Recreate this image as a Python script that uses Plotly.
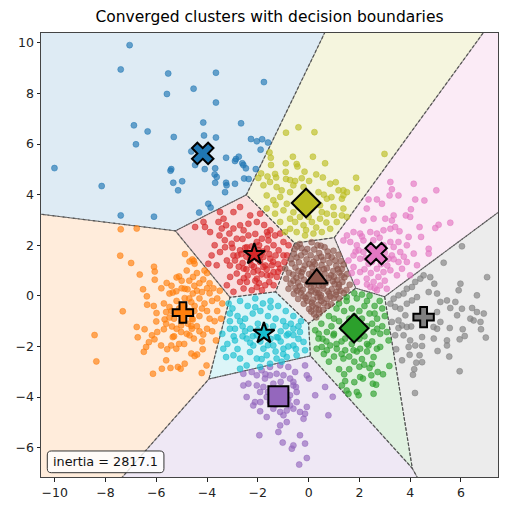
import numpy as np
import plotly.graph_objects as go

# ---------------- data ----------------
cluster_names = ["blue", "orange", "green", "red", "purple", "brown", "pink", "gray", "olive", "cyan"]
cluster_colors = ["#1f77b4", "#ff7f0e", "#2ca02c", "#d62728", "#9467bd",
                  "#8c564b", "#e377c2", "#7f7f7f", "#bcbd22", "#17becf"]
centroid_x = [-4.17, -4.95, 1.79, -2.14, -1.19, 0.32, 2.66, 4.53, -0.10, -1.76]
centroid_y = [5.63, -0.66, -1.28, 1.64, -3.97, 0.68, 1.67, -0.84, 3.67, -1.48]
inertia_value = 2817.1

x_ticks = [-10, -8, -6, -4, -2, 0, 2, 4, 6]
y_ticks = [-6, -4, -2, 0, 2, 4, 6, 8, 10]

blue_pts = [(-7.05, 9.91), (-7.40, 8.95), (-5.53, 8.79), (-4.53, 8.19), (-5.58, 7.98), (-6.88, 6.74),
            (-6.34, 6.50), (-5.31, 6.28), (-6.80, 5.99), (-10.01, 5.05), (-4.62, 5.71), (-5.41, 5.01),
            (-5.44, 4.95), (-4.47, 5.17), (-5.33, 4.47), (-4.98, 4.53), (-3.65, 8.82), (-1.76, 8.45),
            (-3.65, 7.64), (-4.15, 6.85), (-2.66, 6.82), (-4.12, 6.34), (-3.65, 6.26), (-2.27, 6.20),
            (-2.04, 6.11), (-1.83, 6.19), (-1.60, 6.06), (-1.89, 5.78), (-4.09, 5.01), (-3.68, 5.04),
            (-3.70, 4.80), (-3.25, 5.46), (-2.86, 5.41), (-2.75, 5.50), (-2.90, 5.33), (-2.61, 5.24),
            (-2.57, 5.17), (-2.47, 5.04), (-2.08, 5.01), (-2.54, 4.64), (-2.36, 4.62), (-3.68, 4.47),
            (-3.25, 4.47), (-3.62, 4.70), (-3.23, 4.37), (-3.29, 4.10), (-2.90, 4.43), (-3.95, 3.64),
            (-3.86, 3.49), (-4.31, 3.29), (-8.15, 4.34), (-5.14, 4.17), (-7.40, 3.18), (-6.09, 3.13)]

orange_pts = [(-7.40, 2.63), (-6.77, 2.66), (-7.42, 1.59), (-6.99, 1.30), (-6.09, 1.15), (-6.06, 0.96),
              (-6.65, 0.84), (-6.06, 0.64), (-4.87, 1.65), (-4.58, 1.44), (-4.52, 1.38), (-4.69, 1.36),
              (-4.49, 1.27), (-5.10, 0.77), (-5.20, 0.73), (-5.59, 0.51), (-6.52, 0.26), (-6.37, -0.02),
              (-5.48, 0.09), (-5.35, 0.13), (-5.21, 0.18), (-4.88, 0.28), (-4.77, 0.26), (-4.56, 0.09),
              (-4.88, -0.09), (-4.62, -0.25), (-4.49, -0.40), (-6.36, -0.35), (-7.32, -0.61), (-5.99, -0.68),
              (-5.48, -0.44), (-5.61, -0.64), (-6.00, -1.01), (-5.67, -0.93), (-5.61, -1.10), (-5.48, -0.86),
              (-5.38, -1.21), (-5.70, -1.32), (-6.77, -1.23), (-6.46, -1.32), (-5.02, -1.17), (-4.62, -1.19),
              (-4.56, -0.93), (-8.43, -1.55), (-8.36, -2.59), (-6.73, -1.64), (-6.29, -1.83), (-6.40, -2.02),
              (-6.49, -2.21), (-6.13, -3.08), (-6.17, -1.56), (-5.96, -1.43), (-6.07, -1.72), (-5.81, -1.96),
              (-5.57, -2.11), (-5.41, -1.96), (-5.61, -2.55), (-5.44, -2.85), (-5.78, -2.88), (-5.15, -2.81),
              (-5.04, -2.88), (-5.21, -2.09), (-5.35, -1.63), (-5.02, -1.43), (-4.69, -1.56), (-4.52, -1.69),
              (-4.62, -2.28), (-4.49, -2.38), (-4.88, -2.68), (-4.39, -2.32), (-4.17, -2.11), (-4.21, -3.05),
              (-4.02, -2.75), (-3.65, -1.76), (-4.15, -1.53), (-4.30, 0.50), (-4.00, 0.30), (-3.80, -0.20),
              (-4.20, -0.50), (-3.90, -0.90), (-4.40, -1.20), (-4.00, 0.90), (-4.10, 1.00), (-3.60, -0.60),
              (-4.70, -0.60), (-4.30, -0.10), (-4.00, -1.30), (-3.50, 0.20), (-4.70, 0.60), (-4.40, 0.90),
              (-3.90, 0.50), (-4.20, -1.80), (-3.80, -1.40), (-4.60, -0.90), (-5.20, -0.20), (-5.00, 0.30),
              (-4.90, -0.40), (-5.30, -0.90), (-4.80, -1.50), (-5.10, -1.90), (-4.40, 0.20), (-4.10, -0.30),
              (-3.70, -1.00), (-4.50, -0.60), (-5.10, -0.50), (-4.30, -0.80), (-3.90, 0.10), (-4.80, 1.00),
              (-5.40, 0.40), (-3.40, -0.30), (-3.45, -0.90), (-4.70, -0.10), (-4.50, 0.40), (-4.20, 0.15),
              (-4.00, -0.60), (-4.30, -1.40), (-4.60, -1.30), (-5.20, -1.30), (-5.40, -0.60), (-5.70, -0.30),
              (-5.00, -1.00), (-4.75, -1.10), (-3.75, 0.30), (-3.60, -0.10), (-4.15, 0.65), (-4.55, 0.75),
              (-5.00, 0.60), (-5.80, 0.30), (-6.10, -0.40), (-5.30, -1.60), (-4.90, -1.90)]

green_pts = [(1.37, -1.23), (1.64, -1.43), (2.56, -1.43), (2.82, -1.50), (3.08, -1.43), (3.15, -1.76),
             (2.82, -2.02), (2.69, -2.09), (2.36, -1.96), (2.03, -2.09), (1.44, -2.15), (1.77, -2.15),
             (1.37, -2.48), (2.56, -2.42), (2.19, -2.72), (2.40, -2.85), (2.47, -3.14), (2.72, -3.01),
             (2.93, -3.10), (3.18, -2.77), (2.03, -3.21), (2.14, -3.27), (1.44, -3.37), (1.80, -3.41),
             (2.53, -3.47), (2.66, -3.51), (1.57, -3.87), (1.90, -3.80), (1.97, -3.93), (2.56, -3.87),
             (1.31, -3.54), (0.26, -1.36), (0.39, -1.69), (0.32, -2.09), (0.52, -2.02), (0.72, -2.15),
             (0.85, -1.96), (1.11, -2.09), (1.50, -3.74), (0.72, -1.43), (0.98, -1.56), (1.44, -1.69),
             (0.80, -0.80), (1.10, -0.50), (1.20, -0.30), (1.50, -0.20), (1.90, -0.10), (2.30, -0.20),
             (2.60, -0.40), (2.90, -0.50), (3.00, -0.80), (1.40, -0.60), (1.70, -0.50), (2.00, -0.60),
             (2.40, -0.70), (2.70, -0.90), (0.50, -1.10), (0.90, -1.20), (1.20, -1.00), (1.60, -0.90),
             (2.10, -0.90), (2.50, -1.10), (2.90, -1.20), (0.40, -1.50), (0.70, -1.80), (1.00, -1.50),
             (1.30, -1.80), (2.20, -1.60), (2.50, -1.80), (1.90, -2.20), (1.60, -2.40), (2.10, -2.50),
             (1.00, -2.40), (0.80, -2.60), (1.20, -2.90), (1.60, -2.90), (2.00, -2.80), (0.60, -2.30),
             (1.40, -3.10), (2.30, -2.20), (1.80, 0.10), (2.10, 0.05), (1.50, -0.05), (2.40, 0.00),
             (2.80, -0.20), (1.00, -0.90), (1.35, -1.30), (1.60, -1.15), (2.00, -1.35), (2.30, -1.20),
             (2.00, -1.70), (1.70, -1.90), (2.30, -1.90), (1.10, -1.90), (0.55, -1.70), (2.70, -1.30),
             (2.60, -0.70), (2.20, -0.40), (1.80, -0.80), (1.30, -2.30), (2.50, -2.70), (1.80, -2.60)]

red_pts = [(-3.35, 3.05), (-3.55, 2.92), (-3.25, 2.79), (-3.42, 2.66), (-4.14, 2.92), (-4.47, 2.72),
           (-4.08, 2.72), (-3.88, 2.52), (-3.51, 2.39), (-3.12, 2.46), (-2.96, 2.66), (-2.70, 2.79),
           (-2.56, 2.59), (-2.37, 2.39), (-2.83, 2.26), (-3.03, 2.06), (-3.29, 1.92), (-3.49, 1.73),
           (-3.82, 1.60), (-3.95, 1.27), (-3.62, 1.21), (-3.22, 1.40), (-2.96, 1.60), (-2.70, 1.80),
           (-2.43, 1.92), (-2.04, 2.13), (-1.84, 2.26), (-1.58, 2.19), (-1.38, 2.00), (-1.18, 1.80),
           (-0.99, 1.60), (-1.64, 1.87), (-1.91, 1.34), (-2.24, 1.21), (-2.56, 1.08), (-2.83, 0.88),
           (-3.09, 0.75), (-2.96, 0.16), (-2.43, 0.55), (-2.04, 0.68), (-1.64, 0.81), (-1.38, 0.94),
           (-1.12, 1.08), (-0.95, 1.34), (-1.51, 1.47), (-1.78, 1.54), (-2.17, 0.94), (-2.70, 0.55),
           (-2.04, 0.35), (-1.71, 0.42), (-1.38, 0.42), (-2.30, 3.18), (-2.04, 2.92), (-1.91, 3.25),
           (-1.64, 2.52), (-1.51, 2.59), (-1.32, 2.39), (-0.99, 2.13), (-0.79, 2.00), (-1.12, 2.46),
           (-2.96, 3.31), (-2.70, 3.51), (-3.49, 3.31), (-2.37, 2.85), (-1.97, 1.80), (-1.78, 1.14),
           (-1.45, 1.21), (-1.25, 0.75), (-1.84, 0.22), (-2.24, 0.22), (-2.56, 0.29), (-3.22, 0.42),
           (-0.85, 1.60), (-1.20, 0.95), (-2.20, 1.70), (-1.90, 1.60), (-2.50, 1.90), (-2.30, 1.40),
           (-1.70, 1.20), (-2.00, 1.00), (-2.60, 1.30), (-1.50, 0.80), (-2.10, 0.60), (-1.30, 1.60),
           (-2.80, 1.60), (-3.10, 1.20), (-2.40, 0.80), (-1.60, 2.40), (-2.30, 1.60), (-2.00, 1.45),
           (-1.80, 1.75), (-2.45, 1.55), (-2.65, 1.65), (-1.95, 2.00), (-2.25, 1.95), (-1.55, 1.65),
           (-1.40, 1.35), (-1.65, 1.05), (-2.15, 1.15), (-2.45, 1.05), (-2.75, 1.15), (-2.90, 1.40),
           (-1.85, 0.85), (-1.20, 1.25), (-3.30, 2.20), (-3.70, 2.00), (-2.60, 2.25), (-2.10, 2.45),
           (-1.75, 2.80), (-2.55, 0.70), (-1.95, 0.50), (-1.55, 0.55), (-3.00, 1.90)]

purple_pts = [(-2.57, -3.08), (-2.24, -3.01), (-2.04, -3.14), (-1.85, -2.94), (-1.52, -2.81), (-1.12, -2.75),
              (-0.80, -2.81), (-0.14, -2.75), (-0.07, -3.14), (0.01, -3.27), (-0.60, -3.54), (-0.47, -3.80),
              (-0.73, -3.93), (-0.47, -4.20), (-0.60, -4.46), (-0.34, -4.59), (-0.14, -4.66), (-0.07, -4.39),
              (-0.20, -4.86), (0.26, -3.93), (0.65, -3.60), (0.95, -3.99), (0.78, -4.72), (-0.34, -5.51),
              (-0.14, -5.84), (-0.60, -5.91), (-0.66, -6.04), (-1.02, -5.80), (-0.07, -6.41), (-0.37, -6.67),
              (-1.94, -5.51), (-1.19, -5.38), (-1.12, -5.12), (-0.86, -4.99), (-1.65, -4.79), (-1.91, -4.56),
              (-2.18, -4.33), (-2.44, -4.00), (-2.11, -4.20), (-1.91, -3.80), (-2.37, -3.47), (-2.57, -3.54),
              (-2.04, -3.54), (-1.78, -3.60), (-1.72, -3.27), (-1.52, -3.14), (-1.26, -3.08), (-0.99, -3.14),
              (-0.73, -3.27), (-0.60, -3.40), (-1.39, -4.46), (-1.12, -4.59), (-0.86, -4.53), (-0.99, -4.72),
              (-0.73, -4.33), (-1.52, -4.20), (-1.65, -4.00), (-1.39, -3.47), (-0.53, -3.01), (-1.60, -3.80),
              (-0.90, -3.70), (-1.30, -4.30), (-0.80, -4.10), (-1.90, -4.20), (-0.50, -3.60), (-1.10, -3.40),
              (-1.70, -3.10)]

brown_pts = [(-0.35, 2.05), (0.12, 2.12), (0.48, 1.98), (-0.55, 1.85), (-0.28, 1.88), (0.22, 1.83),
             (0.63, 1.92), (0.98, 1.78), (-0.58, 1.66), (-0.15, 1.72), (0.08, 1.61), (0.42, 1.69),
             (0.77, 1.58), (1.18, 1.62), (-0.70, 1.45), (-0.47, 1.52), (-0.08, 1.44), (0.31, 1.49),
             (0.58, 1.41), (0.91, 1.53), (1.27, 1.38), (-0.66, 1.28), (-0.38, 1.33), (0.03, 1.26),
             (0.19, 1.35), (0.51, 1.22), (0.82, 1.31), (1.09, 1.19), (1.38, 1.24), (-0.92, 1.08),
             (-0.52, 1.12), (-0.21, 1.05), (0.14, 1.14), (0.39, 1.02), (0.72, 1.09), (0.97, 0.98),
             (1.31, 1.06), (-0.77, 0.91), (-0.61, 0.84), (-0.27, 0.93), (0.02, 0.86), (0.28, 0.95),
             (0.63, 0.88), (0.88, 0.81), (1.21, 0.92), (1.52, 0.86), (-0.88, 0.68), (-0.48, 0.72),
             (-0.18, 0.64), (0.11, 0.75), (0.52, 0.66), (0.79, 0.71), (1.12, 0.62), (1.41, 0.73),
             (-0.71, 0.49), (-0.42, 0.53), (-0.06, 0.45), (0.23, 0.56), (0.41, 0.42), (0.68, 0.51),
             (1.02, 0.47), (1.33, 0.55), (1.62, 0.44), (-0.79, 0.28), (-0.52, 0.31), (-0.23, 0.24),
             (0.09, 0.33), (0.33, 0.22), (0.58, 0.29), (0.91, 0.26), (1.18, 0.34), (1.49, 0.23),
             (-0.58, 0.08), (-0.31, 0.12), (0.02, 0.05), (0.27, 0.13), (0.49, 0.02), (0.81, 0.09),
             (1.07, 0.04), (1.38, 0.11), (-0.41, -0.12), (-0.12, -0.08), (0.18, -0.15), (0.47, -0.06),
             (0.72, -0.13), (0.98, -0.09), (1.20, -0.10), (-0.19, -0.31), (0.13, -0.27), (0.38, -0.35),
             (0.61, -0.29), (0.88, -0.33), (0.02, -0.52), (0.29, -0.49), (0.57, -0.55), (0.21, -0.72),
             (0.42, -0.70), (0.30, -0.85), (-0.45, 1.95), (0.35, 2.00), (0.75, 1.75), (-0.05, 1.85),
             (0.50, 1.55), (-0.30, 1.60), (1.05, 1.40), (0.25, 1.25), (-0.15, 1.20), (0.60, 1.05),
             (1.15, 1.05), (-0.40, 0.98), (0.15, 0.92), (0.45, 0.80), (1.00, 0.75), (1.30, 0.80),
             (-0.30, 0.78), (0.30, 0.68), (0.95, 0.58), (-0.60, 0.60), (0.00, 0.55), (0.55, 0.40),
             (1.20, 0.45), (-0.35, 0.38), (0.20, 0.40), (0.75, 0.18), (1.25, 0.20), (-0.45, 0.20),
             (0.10, 0.18), (0.40, 0.10), (-0.20, -0.02), (0.35, -0.05), (0.85, -0.02), (1.10, 0.15),
             (-0.05, -0.20), (0.50, -0.20), (0.75, -0.40), (0.15, -0.40), (0.40, -0.55), (0.10, -0.62)]

pink_pts = [(3.22, 4.50), (3.28, 4.21), (3.19, 3.97), (3.54, 3.97), (4.14, 4.43), (5.03, 4.17),
            (4.20, 3.81), (4.56, 3.77), (2.36, 3.81), (2.69, 3.81), (2.89, 3.64), (2.29, 3.45),
            (4.03, 3.42), (3.83, 3.18), (4.00, 3.12), (3.35, 3.18), (3.28, 2.98), (3.02, 3.05),
            (2.56, 3.05), (2.16, 2.98), (5.58, 2.89), (5.12, 2.81), (4.99, 2.68), (4.37, 2.72),
            (4.43, 2.33), (3.94, 2.33), (3.58, 2.55), (3.41, 2.72), (3.22, 2.65), (2.95, 2.59),
            (2.69, 2.46), (2.43, 2.52), (2.03, 2.46), (1.77, 2.52), (1.51, 2.39), (1.37, 2.19),
            (1.64, 2.13), (1.90, 2.00), (2.16, 2.19), (3.22, 2.13), (3.54, 2.13), (3.87, 2.00),
            (4.14, 1.67), (4.73, 1.86), (4.73, 1.67), (3.61, 1.73), (3.28, 1.60), (3.15, 1.47),
            (3.54, 1.34), (3.68, 1.07), (4.00, 0.81), (3.48, 0.81), (3.22, 1.01), (2.95, 0.94),
            (2.69, 1.07), (2.36, 1.27), (2.03, 1.47), (1.77, 1.60), (1.57, 1.40), (1.77, 1.14),
            (2.03, 0.94), (2.29, 0.68), (2.56, 0.55), (2.82, 0.41), (3.08, 0.28), (2.69, 0.22),
            (2.43, 0.35), (1.90, 0.55), (2.16, 1.73), (1.97, 1.80), (2.95, 2.00), (3.35, 1.93),
            (2.82, 1.47), (2.56, 1.60), (3.87, 1.34), (4.27, 1.21), (2.40, 1.90), (2.70, 1.75),
            (3.00, 1.70), (2.55, 2.20), (2.25, 1.50), (2.50, 1.35), (2.85, 1.25), (3.10, 1.20),
            (2.20, 1.05), (2.45, 0.90), (2.75, 0.75), (3.00, 0.60), (1.85, 1.75), (2.10, 2.35),
            (2.80, 2.30), (3.35, 1.45), (3.75, 1.55), (2.30, 0.45), (2.60, 0.30), (1.70, 0.90)]

gray_pts = [(6.04, 1.96), (5.32, 1.31), (7.03, 0.74), (4.79, 0.74), (4.95, 0.48), (5.06, 0.09),
            (4.53, 0.81), (4.40, 0.68), (4.20, 0.55), (4.07, 0.35), (3.87, 0.28), (3.74, 0.09),
            (3.54, 0.02), (3.35, -0.11), (3.22, -0.31), (3.41, -0.44), (3.61, -0.51), (3.87, -0.31),
            (4.07, -0.18), (4.27, -0.05), (4.73, 0.15), (5.19, -0.24), (5.45, -0.18), (5.78, -0.24),
            (5.98, 0.48), (5.91, 0.22), (6.63, 0.02), (5.58, -0.48), (6.04, -0.51), (6.44, -0.48),
            (6.63, -0.64), (6.90, -0.70), (6.37, -0.90), (6.50, -0.97), (5.06, -0.64), (5.19, -1.03),
            (3.81, -0.77), (3.54, -0.97), (3.28, -1.03), (3.68, -1.17), (4.92, -1.23), (3.87, -1.23),
            (6.77, -1.03), (5.85, -0.77), (3.54, -1.27), (4.04, -1.21), (5.06, -1.30), (5.56, -1.27),
            (6.07, -1.32), (6.79, -1.32), (6.98, -1.65), (6.15, -1.59), (5.95, -1.72), (5.45, -1.76),
            (5.45, -1.96), (4.93, -1.69), (4.47, -1.63), (4.00, -1.76), (3.74, -1.56), (3.41, -1.56),
            (4.20, -1.96), (3.94, -2.02), (4.47, -1.98), (3.45, -2.11), (3.98, -2.33), (4.37, -2.35),
            (5.08, -2.18), (5.54, -2.40), (3.68, -2.55), (4.24, -2.64), (4.47, -2.62), (4.16, -2.90),
            (4.11, -3.12), (5.95, -2.98), (4.19, -3.84)]

olive_pts = [(-0.40, 6.66), (-0.89, 6.45), (0.23, 6.47), (-1.54, 5.67), (-0.62, 5.50), (0.17, 5.50),
             (-1.49, 5.46), (-0.90, 5.24), (-0.47, 5.21), (-0.44, 5.11), (0.65, 5.24), (-0.16, 4.91),
             (-1.87, 4.84), (-1.62, 4.72), (-1.32, 4.82), (-1.28, 4.68), (-0.89, 4.62), (-0.73, 4.58),
             (-0.53, 4.54), (-0.27, 4.65), (0.02, 4.54), (0.56, 4.68), (1.07, 4.49), (-1.98, 4.66),
             (-1.48, 5.17), (2.99, 5.61), (1.87, 4.67), (1.37, 4.17), (1.51, 4.10), (1.90, 4.26),
             (1.31, 3.84), (1.37, 3.45), (1.31, 3.18), (1.51, 3.12), (-1.78, 4.37), (-1.52, 4.50),
             (-1.26, 4.30), (-0.60, 4.37), (0.85, 4.43), (1.18, 4.17), (1.37, 3.97), (-1.65, 3.97),
             (-1.39, 3.78), (-1.12, 3.91), (-0.86, 3.64), (-1.65, 3.45), (-1.32, 3.25), (-0.99, 3.38),
             (-0.73, 3.05), (-1.12, 2.92), (-0.73, 2.65), (-0.47, 2.52), (-0.20, 2.79), (0.13, 2.92),
             (0.45, 3.05), (0.72, 3.25), (0.98, 3.51), (1.11, 2.92), (0.85, 2.65), (0.52, 2.52),
             (0.19, 2.46), (-0.14, 2.39), (-0.34, 3.12), (0.45, 3.58), (0.72, 3.84), (0.39, 4.10),
             (-0.73, 4.10), (-1.06, 4.17), (0.52, 3.31), (0.00, 3.12), (-0.53, 2.92), (-0.93, 2.52),
             (-0.40, 3.50), (-0.10, 2.60), (0.30, 2.70), (0.70, 2.90), (-0.60, 3.30), (-1.30, 3.60),
             (-0.20, 4.30), (0.60, 4.00), (1.00, 3.20), (-0.90, 4.90), (0.30, 4.80), (0.90, 3.90)]

cyan_pts = [(-3.10, -1.30), (-2.90, -1.76), (-3.36, -2.09), (-2.96, -2.35), (-2.70, -2.48), (-3.25, -2.42),
            (-2.70, -2.88), (-2.44, -2.75), (-2.04, -2.48), (-1.65, -2.35), (-1.26, -2.48), (-0.86, -2.42),
            (-0.47, -2.35), (-0.14, -2.15), (-0.20, -1.82), (-0.60, -1.96), (-0.99, -2.09), (-1.39, -1.96),
            (-1.78, -2.09), (-2.18, -1.96), (-2.44, -1.69), (-2.04, -1.56), (-1.26, -1.63), (-0.86, -1.56),
            (-0.34, -1.43), (-0.60, -1.30), (-2.31, -2.22), (-1.52, -2.68), (-1.06, -2.60), (-1.91, -2.81),
            (-3.10, -0.70), (-3.00, -0.50), (-2.70, -0.20), (-2.40, -0.40), (-2.10, -0.10), (-1.80, -0.30),
            (-1.50, -0.20), (-1.20, -0.40), (-0.90, -0.60), (-0.60, -0.80), (-3.10, -1.00), (-2.80, -0.80),
            (-2.50, -0.90), (-2.20, -0.70), (-1.90, -0.60), (-1.60, -0.80), (-1.30, -0.90), (-1.00, -1.00),
            (-0.70, -1.10), (-0.40, -1.20), (-2.90, -1.30), (-2.60, -1.20), (-2.30, -1.30), (-2.00, -1.10),
            (-1.40, -1.20), (-1.10, -1.40), (-0.80, -1.50), (-2.60, -1.60), (-2.20, -1.60), (-1.90, -1.80),
            (-1.50, -1.70), (-1.10, -1.80), (-0.40, -1.70), (-3.40, -1.50), (-3.20, -1.90), (-2.80, -2.10),
            (-1.30, -2.20), (-0.80, -2.00), (-2.50, -1.40), (-2.00, -1.35), (-1.70, -1.20), (-1.20, -1.65),
            (-0.90, -1.20), (-0.60, -1.55), (-1.60, -1.95), (-2.30, -1.85), (-2.70, -1.00), (-1.50, -0.45),
            (-2.10, -0.45), (-0.30, -1.00), (-1.85, -2.50), (-1.00, -2.30), (-0.50, -2.10), (-2.95, -1.60),
            (-3.15, -0.30)]

cluster_points = [blue_pts, orange_pts, green_pts, red_pts, purple_pts,
                  brown_pts, pink_pts, gray_pts, olive_pts, cyan_pts]

# ---------------- style ----------------
centroid_symbols = ["x", "cross", "diamond", "star", "square", "triangle-up", "x", "cross", "diamond", "star"]
centroid_sizes = [19, 17, 22, 16, 20, 19, 19, 17, 22, 16]
font_family = "DejaVu Sans"
x_range = [-10.54, 7.46]
y_range = [-7.16, 10.39]


def rgba(hex_color, a):
    h = hex_color.lstrip("#")
    r, g, b = int(h[0:2], 16), int(h[2:4], 16), int(h[4:6], 16)
    return f"rgba({r},{g},{b},{a})"


def clip_halfplane(poly, normal, mid):
    out = []
    n = len(poly)
    for k in range(n):
        p = poly[k]
        q = poly[(k + 1) % n]
        dp = np.dot(p - mid, normal)
        dq = np.dot(q - mid, normal)
        if dp <= 0:
            out.append(p)
        if dp * dq < 0:
            t = dp / (dp - dq)
            out.append(p + t * (q - p))
    return out


cents = np.column_stack([centroid_x, centroid_y])
big = 60.0
box = [np.array([-big, -big]), np.array([big, -big]), np.array([big, big]), np.array([-big, big])]
regions = []
for i in range(len(cents)):
    poly = list(box)
    for j in range(len(cents)):
        if i == j:
            continue
        normal = cents[j] - cents[i]
        mid = (cents[i] + cents[j]) / 2
        poly = clip_halfplane(poly, normal, mid)
    regions.append(np.array(poly))

fig = go.Figure()

# region fills
for i, poly in enumerate(regions):
    xs = list(poly[:, 0]) + [poly[0, 0]]
    ys = list(poly[:, 1]) + [poly[0, 1]]
    fig.add_trace(go.Scatter(x=xs, y=ys, mode="lines", fill="toself",
                             fillcolor=rgba(cluster_colors[i], 0.15),
                             line=dict(width=0), hoverinfo="skip"))
# region boundaries
for i, poly in enumerate(regions):
    xs = list(poly[:, 0]) + [poly[0, 0]]
    ys = list(poly[:, 1]) + [poly[0, 1]]
    fig.add_trace(go.Scatter(x=xs, y=ys, mode="lines",
                             line=dict(width=1.1, color="rgba(70,70,70,0.75)", dash="3.5px,1.6px"),
                             hoverinfo="skip"))
# data points
for i, pts in enumerate(cluster_points):
    arr = np.array(pts)
    fig.add_trace(go.Scatter(x=arr[:, 0], y=arr[:, 1], mode="markers",
                             marker=dict(size=6, color=rgba(cluster_colors[i], 0.65),
                                         line=dict(width=0.6, color=rgba(cluster_colors[i], 0.8))),
                             hoverinfo="skip"))
# centroids
for i in range(len(cents)):
    fig.add_trace(go.Scatter(x=[centroid_x[i]], y=[centroid_y[i]], mode="markers",
                             marker=dict(symbol=centroid_symbols[i], size=centroid_sizes[i],
                                         color=cluster_colors[i],
                                         line=dict(width=2, color="black")),
                             hoverinfo="skip"))


def fmt(v):
    return ("\u2212" + str(abs(v))) if v < 0 else str(v)


axis_common = dict(showgrid=False, zeroline=False, showline=True, linecolor="#444", linewidth=1,
                   mirror=True, ticks="outside", ticklen=3.5, tickwidth=1, tickcolor="#222",
                   tickfont=dict(family=font_family, size=12.5, color="#222"))
fig.update_xaxes(range=x_range, tickvals=x_ticks, ticktext=[fmt(v) for v in x_ticks], **axis_common)
fig.update_yaxes(range=y_range, tickvals=y_ticks, ticktext=[fmt(v) for v in y_ticks], **axis_common)

# inertia box (rounded)
x0, x1, y0, y1 = 0.0138, 0.269, 0.0097, 0.0586
rx, ry = 0.0088, 0.009
path = (f"M {x0+rx},{y0} L {x1-rx},{y0} Q {x1},{y0} {x1},{y0+ry} L {x1},{y1-ry} "
        f"Q {x1},{y1} {x1-rx},{y1} L {x0+rx},{y1} Q {x0},{y1} {x0},{y1-ry} "
        f"L {x0},{y0+ry} Q {x0},{y0} {x0+rx},{y0} Z")
fig.add_shape(type="path", path=path, xref="paper", yref="paper",
              fillcolor="rgba(255,255,255,0.8)", line=dict(color="#333", width=1))
fig.add_annotation(x=(x0 + x1) / 2, y=(y0 + y1) / 2, xref="paper", yref="paper",
                   xanchor="center", yanchor="middle",
                   text=f"inertia = {inertia_value}", showarrow=False,
                   font=dict(family=font_family, size=12.8, color="#111"))

fig.update_layout(
    width=509, height=512,
    margin=dict(l=41, r=11, t=33, b=35),
    plot_bgcolor="white", paper_bgcolor="white",
    showlegend=False,
    title=dict(text="Converged clusters with decision boundaries", x=0.5, xref="paper",
               xanchor="center", y=1 - 17 / 512, yanchor="middle",
               font=dict(family=font_family, size=15.5, color="black")),
)

fig.write_html("out.html")
